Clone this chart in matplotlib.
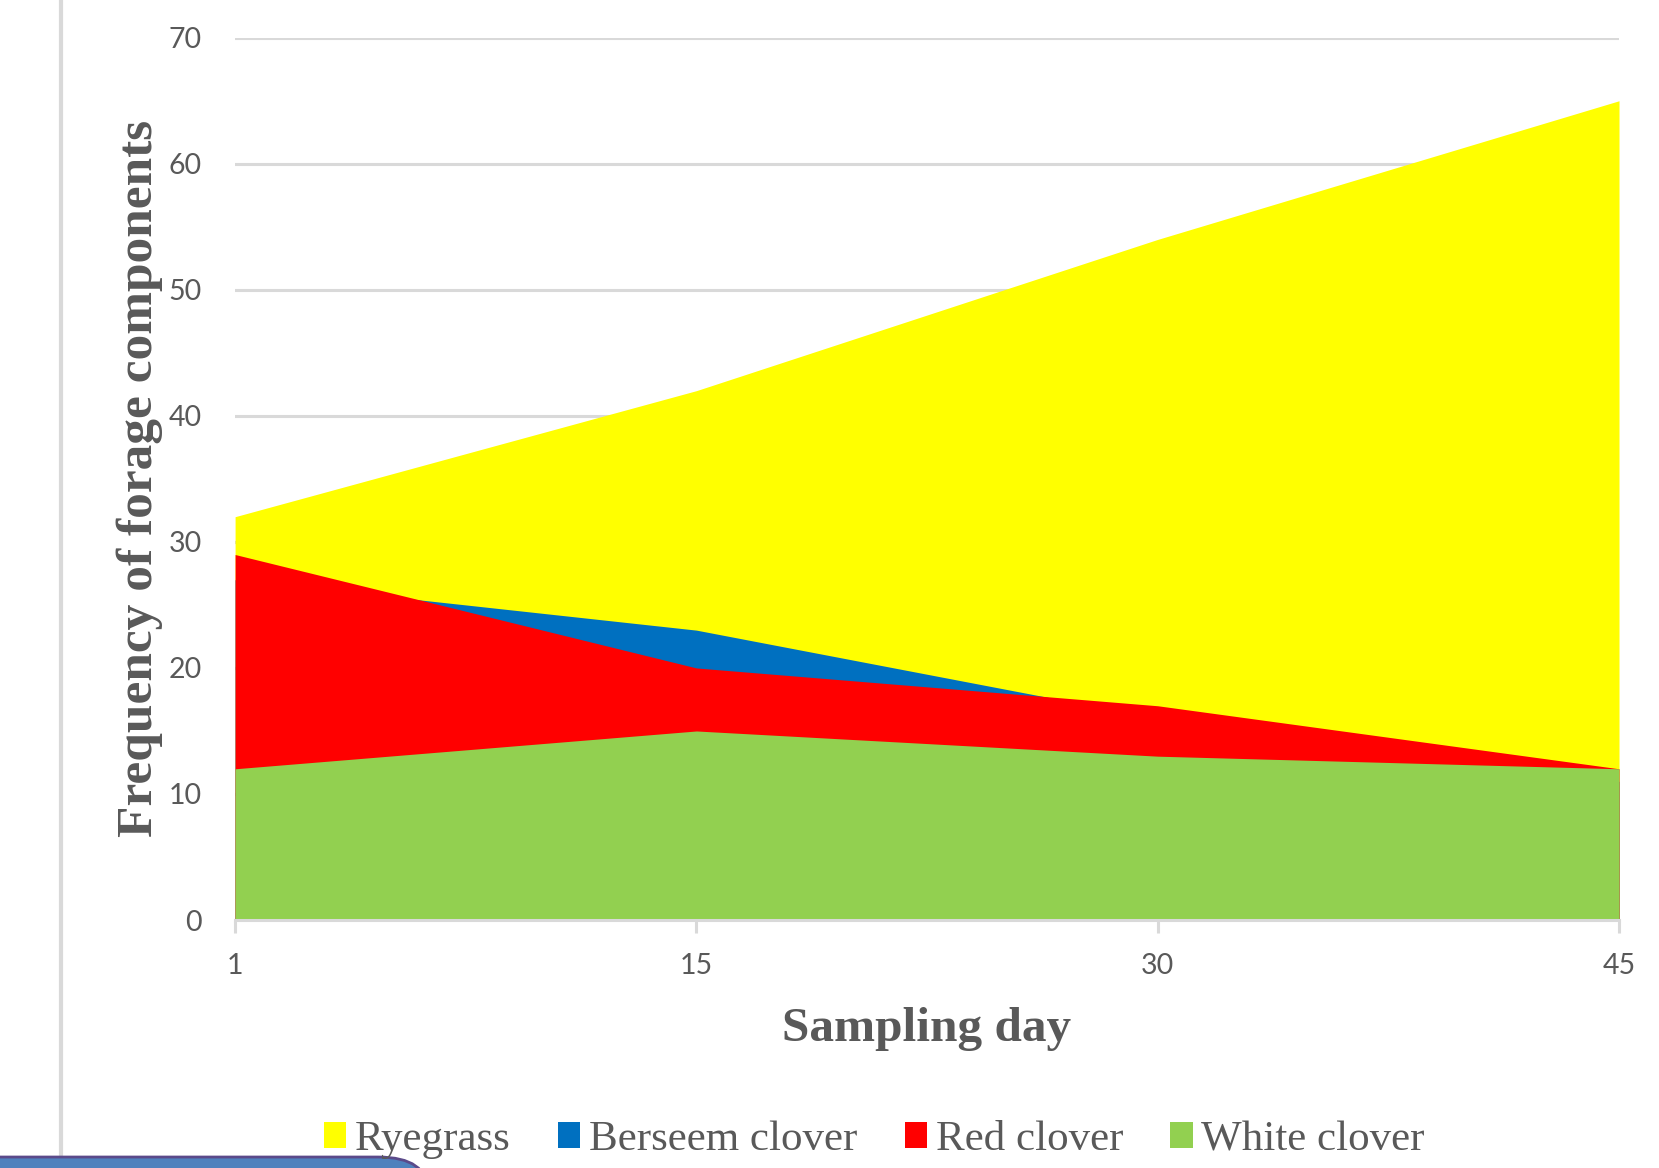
import numpy as np
import matplotlib
matplotlib.use("Agg")
from matplotlib import pyplot as plt
from matplotlib.patches import Patch, FancyBboxPatch
from matplotlib.lines import Line2D

days = ['1', '15', '30', '45']
ryegrass = [32, 42, 54, 65]
berseem = [27, 23, 16, 11]
red_clover = [29, 20, 17, 12]
white_clover = [12, 15, 13, 12]

names = ['Ryegrass', 'Berseem clover', 'Red clover', 'White clover']
colors = ['#FFFF00', '#0070C0', '#FF0000', '#92D050']
grey = '#595959'

fig = plt.figure(figsize=(16.59, 11.68), dpi=100)
ax = fig.add_axes([0.1417, 0.2123, 0.9759 - 0.1417, 0.9677 - 0.2123])

x = np.arange(len(days))
# plain (not stacked) area chart, first series drawn at the back
for vals, c in zip([ryegrass, berseem, red_clover, white_clover], colors):
    ax.fill_between(x, 0, vals, color=c, linewidth=0, zorder=2)

ax.set_xlim(0, len(days) - 1)
ax.set_ylim(0, 70)
ax.set_yticks(range(0, 71, 10))
ax.set_xticks(x)
ax.set_xticklabels(days)
ax.grid(axis='y', color='#d9d9d9', linewidth=2.2, zorder=0)
ax.set_axisbelow(True)
for s in ['top', 'right', 'left']:
    ax.spines[s].set_visible(False)
ax.spines['bottom'].set_color('#d9d9d9')
ax.spines['bottom'].set_linewidth(2.2)
ax.spines['bottom'].set_zorder(3)
ax.tick_params(axis='y', length=0, pad=24, labelsize=20.5, labelcolor=grey)
ax.tick_params(axis='x', length=9, width=2.2, color='#d9d9d9', pad=15,
               labelsize=20.5, labelcolor=grey)
for lab in ax.get_xticklabels() + ax.get_yticklabels():
    lab.set_family('Lato')

ax.set_ylabel('Frequency of forage components', family='Liberation Serif',
              fontweight='bold', fontsize=37, color=grey, labelpad=4)
ax.set_xlabel('Sampling day', family='Liberation Serif', fontweight='bold',
              fontsize=35.5, color=grey, labelpad=20)

handles = [Patch(facecolor=c, edgecolor='none') for c in colors]
fig.legend(handles, names, loc='center', bbox_to_anchor=(0.527, 0.024),
           ncol=4, frameon=False, prop={'family': 'Liberation Serif', 'size': 31},
           labelcolor=grey, handlelength=0.52, handleheight=0.52,
           handletextpad=0.2, columnspacing=1.1)

# page border line and the blue shape in the bottom-left corner
fig.add_artist(Line2D([0.037, 0.037], [0.0, 1.0], transform=fig.transFigure,
                      color='#d9d9d9', linewidth=3))
fig.add_artist(FancyBboxPatch((-0.05, -0.06), 0.308, 0.0694,
                              boxstyle='round,pad=0,rounding_size=0.03',
                              transform=fig.transFigure, facecolor='#4F81BD',
                              edgecolor='#5B4A8A', linewidth=2, zorder=5))

fig.savefig('out.png', dpi=100)
